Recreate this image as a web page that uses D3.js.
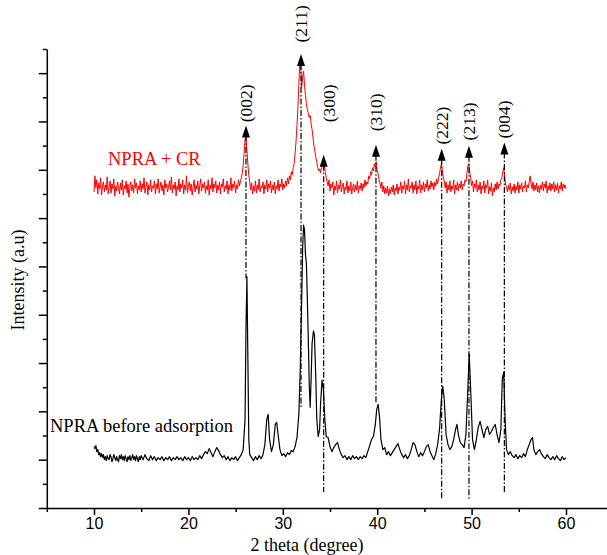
<!DOCTYPE html>
<html><head><meta charset="utf-8">
<script src="https://cdn.jsdelivr.net/npm/d3@7"></script>
<style>body{margin:0;background:#fff}svg{display:block}</style>
</head><body>
<svg id="c" width="607" height="555"></svg>
<script>
// ---- data ----
const blackSeries = [
[10.0,61],[10.1,59],[10.2,62],[10.3,56],[10.4,58],[10.5,53],[10.6,55],[10.7,51],[10.8,54],[10.9,50],[11.0,53],[11.1,48],[11.2,51],[11.3,47],[11.4,52],[11.5,49],[11.6,48],[11.7,53],[11.8,51],[11.9,46],[12.0,49],[12.1,53],[12.2,50],[12.3,47],[12.4,51],[12.5,48],[12.6,46],[12.7,52],[12.8,49],[12.9,53],[13.0,48],[13.1,51],[13.2,47],[13.3,52],[13.4,49],[13.5,46],[13.6,51],[13.7,48],[13.8,52],[13.9,47],[14.0,50],[14.1,53],[14.2,48],[14.3,51],[14.4,47],[14.5,52],[14.6,49],[14.7,46],[14.8,51],[14.9,48],[15.0,52],[15.2,48],[15.4,53],[15.6,49],[15.8,47],[16.0,52],[16.2,48],[16.4,51],[16.6,47],[16.8,50],[17.0,48],[17.2,51],[17.4,47],[17.6,50],[17.8,48],[18.0,51],[18.2,47],[18.4,50],[18.6,48],[18.8,51],[19.0,48],[19.2,50],[19.4,47],[19.6,51],[19.8,48],[20.0,50],[20.2,47],[20.4,51],[20.6,48],[20.8,50],[21.0,48],[21.2,52],[21.4,49],[21.6,53],[21.8,56],[22.0,54],[22.2,59],[22.4,55],[22.6,51],[22.8,56],[23.0,60],[23.2,57],[23.4,53],[23.6,50],[23.8,52],[24.0,48],[24.2,51],[24.4,47],[24.6,50],[24.8,48],[25.0,51],[25.2,47],[25.4,50],[25.6,53],[25.8,58],[26.0,88],[26.1,178],[26.2,230],[26.3,148],[26.4,68],[26.5,53],[26.7,50],[26.9,47],[27.1,51],[27.3,48],[27.5,52],[27.7,49],[27.9,53],[28.1,63],[28.3,88],[28.45,93],[28.6,68],[28.8,56],[29.0,63],[29.2,83],[29.35,85],[29.5,73],[29.7,58],[29.9,52],[30.1,54],[30.3,51],[30.5,55],[30.7,53],[30.9,57],[31.1,56],[31.3,61],[31.5,70],[31.7,93],[31.85,138],[32.0,208],[32.1,258],[32.2,281],[32.3,276],[32.4,252],[32.5,243],[32.6,208],[32.7,168],[32.8,123],[32.9,100],[33.0,128],[33.1,163],[33.25,176],[33.35,172],[33.5,128],[33.6,88],[33.75,71],[33.9,78],[34.0,103],[34.15,127],[34.3,118],[34.45,88],[34.6,71],[34.8,70],[35.0,61],[35.2,56],[35.4,60],[35.6,63],[35.8,65],[36.0,58],[36.2,53],[36.4,50],[36.6,52],[36.8,48],[37.0,51],[37.2,48],[37.4,52],[37.6,49],[37.8,51],[38.0,48],[38.2,51],[38.4,49],[38.6,52],[38.8,50],[39.0,56],[39.2,62],[39.4,68],[39.6,71],[39.8,83],[39.95,98],[40.1,103],[40.25,90],[40.4,68],[40.6,58],[40.8,60],[41.0,53],[41.2,56],[41.4,52],[41.6,55],[41.8,58],[42.0,61],[42.2,64],[42.4,58],[42.6,53],[42.8,50],[43.0,53],[43.2,49],[43.4,52],[43.6,58],[43.8,65],[44.0,63],[44.2,56],[44.4,51],[44.6,55],[44.8,52],[45.0,56],[45.2,61],[45.4,63],[45.6,56],[45.8,52],[46.0,48],[46.2,54],[46.4,63],[46.6,78],[46.8,108],[46.95,121],[47.1,108],[47.3,73],[47.5,63],[47.7,58],[47.9,61],[48.1,68],[48.3,78],[48.45,83],[48.6,73],[48.8,65],[49.0,63],[49.2,60],[49.4,73],[49.6,118],[49.75,153],[49.9,118],[50.1,68],[50.3,58],[50.5,68],[50.7,80],[50.9,86],[51.1,78],[51.3,70],[51.5,78],[51.7,81],[51.9,73],[52.1,76],[52.3,80],[52.5,83],[52.7,73],[52.9,65],[53.1,78],[53.25,128],[53.4,135],[53.55,88],[53.7,58],[53.9,53],[54.1,56],[54.3,52],[54.5,50],[54.7,53],[54.9,49],[55.1,52],[55.3,50],[55.5,54],[55.7,51],[55.9,58],[56.1,63],[56.3,68],[56.45,70],[56.6,58],[56.8,53],[57.0,56],[57.2,58],[57.4,54],[57.6,51],[57.8,49],[58.0,53],[58.2,50],[58.4,48],[58.6,51],[58.8,48],[59.0,52],[59.2,49],[59.4,47],[59.6,51],[59.8,48],[60.0,50]
];
const redSeries = [
[10.0,314],[10.1,330],[10.2,318],[10.3,326],[10.4,312],[10.5,323],[10.6,317],[10.7,328],[10.8,311],[10.9,320],[11.0,324],[11.1,314],[11.2,321],[11.3,316],[11.4,329],[11.5,312],[11.6,319],[11.7,325],[11.8,313],[11.9,322],[12.0,317],[12.1,327],[12.2,310],[12.3,320],[12.4,315],[12.5,324],[12.6,318],[12.7,312],[12.8,323],[12.9,316],[13.0,326],[13.1,311],[13.2,320],[13.3,317],[13.4,325],[13.5,313],[13.6,322],[13.7,309],[13.8,319],[13.9,324],[14.0,315],[14.1,321],[14.2,313],[14.3,327],[14.4,318],[14.5,323],[14.6,312],[14.7,320],[14.8,316],[14.9,325],[15.0,314],[15.1,322],[15.2,317],[15.3,328],[15.4,313],[15.5,319],[15.6,324],[15.7,311],[15.8,321],[15.9,316],[16.0,326],[16.1,314],[16.2,320],[16.3,318],[16.4,325],[16.5,312],[16.6,322],[16.7,317],[16.8,327],[16.9,313],[17.0,319],[17.1,324],[17.2,315],[17.3,321],[17.4,311],[17.5,326],[17.6,318],[17.7,322],[17.8,314],[17.9,320],[18.0,325],[18.1,316],[18.2,329],[18.3,313],[18.4,321],[18.5,317],[18.6,324],[18.7,310],[18.8,320],[18.9,316],[19.0,327],[19.1,314],[19.2,322],[19.3,318],[19.4,326],[19.5,312],[19.6,321],[19.7,316],[19.8,330],[19.9,313],[20.0,320],[20.1,324],[20.2,315],[20.3,322],[20.4,311],[20.5,319],[20.6,326],[20.7,314],[20.8,321],[20.9,317],[21.0,325],[21.1,312],[21.2,320],[21.3,327],[21.4,315],[21.5,322],[21.6,318],[21.7,324],[21.8,313],[21.9,320],[22.0,316],[22.1,326],[22.2,311],[22.3,321],[22.4,317],[22.5,328],[22.6,314],[22.7,322],[22.8,318],[22.9,325],[23.0,313],[23.1,321],[23.2,316],[23.3,324],[23.4,312],[23.5,322],[23.6,319],[23.7,327],[23.8,314],[23.9,320],[24.0,317],[24.1,325],[24.2,312],[24.3,321],[24.4,316],[24.5,328],[24.6,315],[24.7,322],[24.8,318],[24.9,325],[25.0,313],[25.1,321],[25.2,317],[25.3,326],[25.4,320],[25.5,324],[25.6,328],[25.7,332],[25.8,340],[25.9,352],[26.0,366],[26.1,368],[26.2,355],[26.3,342],[26.4,330],[26.5,324],[26.6,316],[26.7,323],[26.8,312],[26.9,320],[27.0,315],[27.1,325],[27.2,313],[27.3,321],[27.4,316],[27.5,327],[27.6,314],[27.7,320],[27.8,318],[27.9,324],[28.0,312],[28.1,321],[28.2,317],[28.3,326],[28.4,314],[28.5,322],[28.6,318],[28.7,325],[28.8,313],[28.9,321],[29.0,316],[29.1,324],[29.2,312],[29.3,320],[29.4,317],[29.5,326],[29.6,315],[29.7,322],[29.8,319],[29.9,327],[30.0,316],[30.1,322],[30.2,318],[30.3,325],[30.4,320],[30.5,328],[30.6,322],[30.7,330],[30.8,326],[30.9,334],[31.0,331],[31.1,338],[31.2,342],[31.3,352],[31.4,364],[31.5,380],[31.6,398],[31.7,420],[31.8,445],[31.9,438],[32.0,418],[32.1,428],[32.2,434],[32.3,420],[32.4,410],[32.5,402],[32.6,396],[32.7,392],[32.8,388],[32.9,390],[33.0,382],[33.1,376],[33.2,368],[33.3,360],[33.4,355],[33.5,348],[33.6,344],[33.7,338],[33.8,335],[33.9,337],[34.0,333],[34.1,338],[34.2,341],[34.3,343],[34.4,340],[34.5,334],[34.6,328],[34.7,324],[34.8,320],[34.9,326],[35.0,315],[35.1,322],[35.2,318],[35.3,324],[35.4,311],[35.5,320],[35.6,316],[35.7,325],[35.8,313],[35.9,321],[36.0,317],[36.1,326],[36.2,314],[36.3,320],[36.4,323],[36.5,312],[36.6,319],[36.7,316],[36.8,325],[36.9,313],[37.0,320],[37.1,315],[37.2,324],[37.3,312],[37.4,318],[37.5,322],[37.6,314],[37.7,321],[37.8,316],[37.9,325],[38.0,313],[38.1,320],[38.2,317],[38.3,323],[38.4,315],[38.5,322],[38.6,318],[38.7,326],[38.8,320],[38.9,324],[39.0,322],[39.1,330],[39.2,327],[39.3,334],[39.4,331],[39.5,338],[39.6,335],[39.7,342],[39.8,339],[39.9,344],[40.0,335],[40.1,332],[40.2,326],[40.3,322],[40.4,318],[40.5,324],[40.6,314],[40.7,320],[40.8,312],[40.9,318],[41.0,313],[41.1,320],[41.2,310],[41.3,317],[41.4,312],[41.5,319],[41.6,314],[41.7,321],[41.8,311],[41.9,318],[42.0,315],[42.1,322],[42.2,312],[42.3,319],[42.4,316],[42.5,324],[42.6,313],[42.7,320],[42.8,317],[42.9,325],[43.0,312],[43.1,321],[43.2,316],[43.3,327],[43.4,314],[43.5,320],[43.6,318],[43.7,324],[43.8,313],[43.9,321],[44.0,316],[44.1,325],[44.2,312],[44.3,320],[44.4,317],[44.5,326],[44.6,313],[44.7,321],[44.8,316],[44.9,324],[45.0,314],[45.1,322],[45.2,318],[45.3,326],[45.4,315],[45.5,321],[45.6,317],[45.7,325],[45.8,319],[45.9,323],[46.0,316],[46.1,324],[46.2,320],[46.3,327],[46.4,322],[46.5,328],[46.6,332],[46.7,338],[46.8,342],[46.9,336],[47.0,329],[47.1,325],[47.2,318],[47.3,324],[47.4,313],[47.5,321],[47.6,316],[47.7,325],[47.8,314],[47.9,320],[48.0,317],[48.1,326],[48.2,312],[48.3,321],[48.4,316],[48.5,324],[48.6,315],[48.7,322],[48.8,318],[48.9,325],[49.0,316],[49.1,322],[49.2,320],[49.3,326],[49.4,324],[49.5,332],[49.6,340],[49.7,342],[49.8,334],[49.9,328],[50.0,320],[50.1,325],[50.2,314],[50.3,322],[50.4,318],[50.5,326],[50.6,314],[50.7,321],[50.8,316],[50.9,324],[51.0,312],[51.1,320],[51.2,317],[51.3,325],[51.4,313],[51.5,321],[51.6,318],[51.7,326],[51.8,312],[51.9,319],[52.0,315],[52.1,323],[52.2,310],[52.3,318],[52.4,314],[52.5,322],[52.6,316],[52.7,324],[52.8,317],[52.9,322],[53.0,320],[53.1,326],[53.2,328],[53.3,334],[53.4,338],[53.5,330],[53.6,322],[53.7,318],[53.8,314],[53.9,321],[54.0,316],[54.1,323],[54.2,312],[54.3,319],[54.4,315],[54.5,322],[54.6,313],[54.7,320],[54.8,316],[54.9,324],[55.0,313],[55.1,321],[55.2,317],[55.3,323],[55.4,314],[55.5,320],[55.6,318],[55.7,325],[55.8,314],[55.9,321],[56.0,318],[56.1,324],[56.2,330],[56.3,322],[56.4,317],[56.5,324],[56.6,315],[56.7,321],[56.8,316],[56.9,323],[57.0,314],[57.1,320],[57.2,313],[57.3,321],[57.4,317],[57.5,324],[57.6,315],[57.7,322],[57.8,318],[57.9,325],[58.0,313],[58.1,320],[58.2,316],[58.3,323],[58.4,315],[58.5,322],[58.6,317],[58.7,324],[58.8,314],[58.9,321],[59.0,316],[59.1,323],[59.2,313],[59.3,320],[59.4,317],[59.5,324],[59.6,315],[59.7,322],[59.8,318],[59.9,321],[60.0,317]
];
const hklLabels   = ["(002)","(211)","(300)","(310)","(222)","(213)","(004)"];
const hklAngles   = [26.1, 31.93, 34.33, 39.87, 46.83, 49.72, 53.47];
const arrowTips   = [380, 451, 351, 361, 357, 360, 363];
const lineBottoms = [228, 100, 16, 103, 8, 8, 15];
const labelAngles = [26.1, 31.93, 34.9, 39.87, 46.83, 49.72, 53.47];
const labelLevels = [402, 481, 402, 393, 380, 384, 386];
const xMajorTicks = [10, 20, 30, 40, 50, 60];
const xMinorTicks = [5, 15, 25, 35, 45, 55];
const seriesNames = ["NPRA + CR", "NPRA before adsorption"];

// ---- chart ----
const svg = d3.select("#c");
const x = d3.scaleLinear().domain([5, 65]).range([46.8, 613.2]);
const y = d3.scaleLinear().domain([0, 456]).range([508, 49]);
const serif = "'Liberation Serif','Times New Roman',serif";
const sans = "'Liberation Sans',Arial,sans-serif";

// axes
const gx = svg.append("g").attr("transform", `translate(0,${y(0)})`);
gx.call(d3.axisBottom(x).tickValues(xMajorTicks).tickSize(7).tickSizeOuter(0).tickPadding(3));
gx.append("g").call(d3.axisBottom(x).tickValues(xMinorTicks).tickSize(4).tickSizeOuter(0).tickFormat(""))
  .select(".domain").remove();
gx.selectAll("path,line").attr("stroke", "#000").attr("stroke-width", 1.5);
gx.selectAll("text").attr("font-family", sans).attr("font-size", 16).attr("fill", "#000");

const yMajor = d3.range(0, 457, 48);
const yMinor = d3.range(24, 457, 48);
const gy = svg.append("g").attr("transform", `translate(${x(5)},0)`);
gy.call(d3.axisLeft(y).tickValues(yMajor).tickSize(8).tickSizeOuter(0).tickFormat(""));
gy.append("g").call(d3.axisLeft(y).tickValues(yMinor).tickSize(4).tickSizeOuter(0).tickFormat(""))
  .select(".domain").remove();
gy.selectAll("path,line").attr("stroke", "#000").attr("stroke-width", 1.5);

// axis titles
svg.append("text").attr("x", 307).attr("y", 551).attr("text-anchor", "middle")
  .attr("font-family", serif).attr("font-size", 18).text("2 theta (degree)");
svg.append("text").attr("transform", "translate(24,280) rotate(-90)").attr("text-anchor", "middle")
  .attr("font-family", serif).attr("font-size", 18).text("Intensity (a.u)");

// series
const line = d3.line().x(d => x(d[0])).y(d => y(d[1]));
svg.append("path").datum(blackSeries).attr("d", line).attr("fill", "none")
  .attr("stroke", "#000").attr("stroke-width", 1.2).attr("stroke-linejoin", "round");
svg.append("path").datum(redSeries).attr("d", line).attr("fill", "none")
  .attr("stroke", "#ff0000").attr("stroke-width", 1).attr("stroke-linejoin", "round");

// series labels
svg.append("text").attr("x", 108).attr("y", 165).attr("font-family", serif).attr("font-size", 18.5)
  .attr("fill", "#ff0000").text(seriesNames[0]);
svg.append("text").attr("x", 50).attr("y", 432).attr("font-family", serif).attr("font-size", 18.5)
  .attr("fill", "#000").text(seriesNames[1]);

// reflection markers
const markers = svg.append("g");
hklAngles.forEach((a, i) => {
  const px = x(a), tip = y(arrowTips[i]);
  markers.append("line").attr("x1", px).attr("x2", px).attr("y1", tip + 10).attr("y2", y(lineBottoms[i]))
    .attr("stroke", "#000").attr("stroke-width", 1.2).attr("stroke-dasharray", "6,2,1.5,2");
  markers.append("path").attr("d", `M${px},${tip}L${px - 4},${tip + 12}L${px + 4},${tip + 12}Z`).attr("fill", "#000");
  markers.append("text").attr("transform", `translate(${x(labelAngles[i]) + 6},${y(labelLevels[i])}) rotate(-90)`)
    .attr("text-anchor", "middle").attr("font-family", serif).attr("font-size", 17.5).text(hklLabels[i]);
});
</script>
</body></html>
